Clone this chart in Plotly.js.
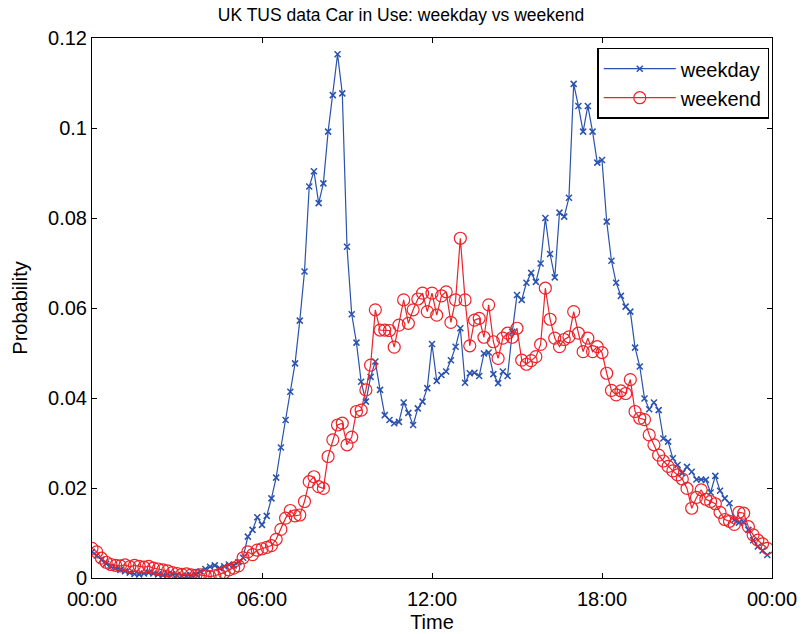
<!DOCTYPE html>
<html>
<head>
<meta charset="utf-8">
<script src="https://cdn.plot.ly/plotly-3.0.1.min.js"></script>
<style>
html,body{margin:0;padding:0;background:#fff;}
#chart{width:802px;height:634px;}
</style>
</head>
<body>
<div id="chart"></div>
<script>
// Time of day in hours, 10-minute steps (00:00 .. 23:50)
var stepsPerHour = 6;
var nPoints = 144;
var timeHours = [];
for (var k = 0; k < nPoints; k++) { timeHours.push(k / stepsPerHour); }

var tickHours = [0, 6, 12, 18, 24];
var tickLabels = ["00:00", "06:00", "12:00", "18:00", "00:00"];
var yTicks = [0, 0.02, 0.04, 0.06, 0.08, 0.1, 0.12];
var yTickLabels = ["0", "0.02", "0.04", "0.06", "0.08", "0.1", "0.12"];

var weekday = [
0.0058,0.0050,0.0040,0.0032,0.0025,0.0022,0.0018,0.0015,0.0012,0.0009,0.0008,0.0010,
0.0012,0.0010,0.0008,0.0006,0.0009,0.0008,0.0006,0.0005,0.0005,0.0006,0.0008,0.0015,
0.0020,0.0025,0.0028,0.0022,0.0026,0.0030,0.0028,0.0035,0.0045,0.0092,0.0107,0.0135,
0.0118,0.0138,0.0177,0.0223,0.0290,0.0351,0.0414,0.0477,0.0572,0.0681,0.0870,0.0904,
0.0833,0.0877,0.0992,0.1073,0.1164,0.1077,0.0736,0.0586,0.0523,0.0436,0.0392,0.0447,
0.0481,0.0418,0.0362,0.0351,0.0344,0.0347,0.0390,0.0367,0.0340,0.0377,0.0392,0.0422,
0.0520,0.0438,0.0451,0.0459,0.0484,0.0514,0.0555,0.0434,0.0455,0.0456,0.0449,0.0499,
0.0501,0.0453,0.0433,0.0459,0.0449,0.0547,0.0629,0.0618,0.0656,0.0678,0.0658,0.0699,
0.0800,0.0720,0.0668,0.0812,0.0803,0.0845,0.1098,0.1049,0.0992,0.1049,0.0992,0.0923,
0.0929,0.0792,0.0705,0.0656,0.0627,0.0603,0.0592,0.0512,0.0470,0.0399,0.0375,0.0390,
0.0373,0.0310,0.0303,0.0266,0.0251,0.0233,0.0247,0.0236,0.0219,0.0219,0.0218,0.0190,
0.0227,0.0194,0.0177,0.0166,0.0129,0.0123,0.0125,0.0107,0.0084,0.0070,0.0061,0.0051
];

var weekend = [
0.0066,0.0058,0.0044,0.0035,0.0030,0.0028,0.0027,0.0029,0.0025,0.0028,0.0026,0.0024,
0.0026,0.0022,0.0020,0.0018,0.0016,0.0012,0.0010,0.0008,0.0009,0.0007,0.0006,0.0007,
0.0005,0.0003,0.0005,0.0008,0.0012,0.0018,0.0022,0.0027,0.0045,0.0058,0.0052,0.0062,
0.0065,0.0068,0.0072,0.0086,0.0108,0.0133,0.0150,0.0138,0.0140,0.0170,0.0214,0.0225,
0.0203,0.0199,0.0270,0.0307,0.0340,0.0344,0.0296,0.0313,0.0370,0.0373,0.0418,0.0473,
0.0596,0.0551,0.0551,0.0550,0.0513,0.0562,0.0618,0.0566,0.0596,0.0620,0.0633,0.0592,
0.0633,0.0584,0.0627,0.0636,0.0568,0.0618,0.0755,0.0618,0.0516,0.0573,0.0577,0.0535,
0.0607,0.0525,0.0488,0.0533,0.0544,0.0535,0.0555,0.0484,0.0475,0.0483,0.0492,0.0519,
0.0644,0.0575,0.0533,0.0514,0.0530,0.0536,0.0592,0.0544,0.0503,0.0533,0.0503,0.0514,
0.0501,0.0455,0.0417,0.0407,0.0416,0.0410,0.0441,0.0370,0.0355,0.0352,0.0318,0.0296,
0.0273,0.0260,0.0248,0.0238,0.0229,0.0220,0.0199,0.0155,0.0179,0.0196,0.0175,0.0170,
0.0165,0.0146,0.0130,0.0126,0.0119,0.0146,0.0144,0.0114,0.0096,0.0084,0.0076,0.0066
];

var blue = "#2A52AE";
var red = "#EE2229";

var traces = [
  {
    x: timeHours, y: weekday, name: "weekday", type: "scatter", mode: "lines+markers",
    line: {color: blue, width: 1.2},
    marker: {symbol: "x-thin", size: 6, color: blue, line: {color: blue, width: 1.5}}
  },
  {
    x: timeHours, y: weekend, name: "weekend", type: "scatter", mode: "lines+markers",
    line: {color: red, width: 1.2},
    marker: {symbol: "circle-open", size: 12, color: red, line: {color: red, width: 1.2}}
  }
];

var fam = "Liberation Sans, Arial, sans-serif";
var axisFont = {family: fam, size: 20, color: "#000"};

var layout = {
  width: 802, height: 634,
  margin: {l: 92, r: 30, t: 38, b: 56},
  paper_bgcolor: "#fff", plot_bgcolor: "#fff",
  font: axisFont,
  title: {text: "UK TUS data Car in Use: weekday vs weekend", x: 0.5, xanchor: "center",
          y: 0.976, yanchor: "middle", font: {family: fam, size: 17.5, color: "#000"}},
  showlegend: true,
  legend: {x: 0.996, xanchor: "right", y: 0.982, yanchor: "top",
           bgcolor: "#fff", bordercolor: "#000", borderwidth: 1.5,
           font: {family: fam, size: 20, color: "#000"},
           itemwidth: 72, tracegroupgap: 0},
  xaxis: {
    range: [0, 24], tickmode: "array", tickvals: tickHours, ticktext: tickLabels,
    showgrid: false, zeroline: false, showline: true, linecolor: "#000", linewidth: 1,
    mirror: "ticks", ticks: "inside", ticklen: 5, tickcolor: "#000",
    tickfont: axisFont, ticklabelstandoff: 3,
    title: {text: "Time", font: axisFont, standoff: 5}
  },
  yaxis: {
    range: [0, 0.12], tickmode: "array", tickvals: yTicks, ticktext: yTickLabels,
    showgrid: false, zeroline: false, showline: true, linecolor: "#000", linewidth: 1,
    mirror: "ticks", ticks: "inside", ticklen: 5, tickcolor: "#000",
    tickfont: axisFont,
    title: {text: "Probability", font: axisFont, standoff: 15}
  }
};

Plotly.newPlot("chart", traces, layout, {displayModeBar: false, staticPlot: true});
</script>
</body>
</html>
